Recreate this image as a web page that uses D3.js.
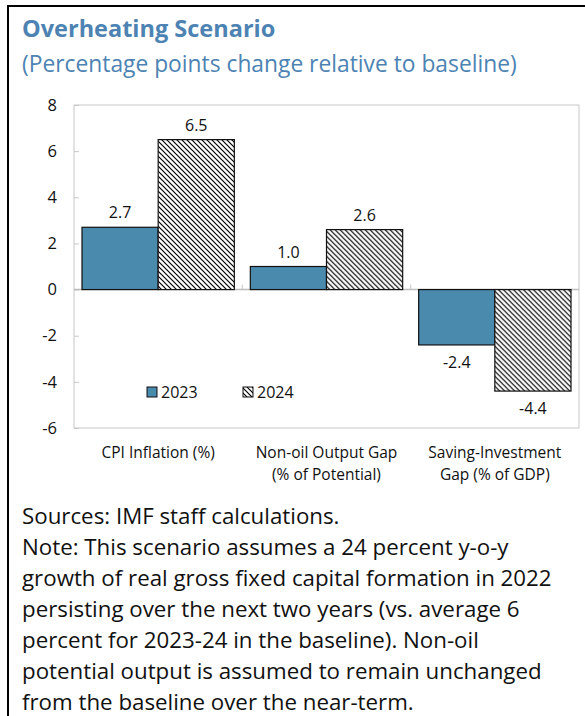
<!DOCTYPE html>
<html>
<head>
<meta charset="utf-8">
<script src="https://cdn.jsdelivr.net/npm/d3@7"></script>
<style>
  html, body { margin: 0; padding: 0; background: #fff; }
  svg { display: block; }
</style>
</head>
<body>
<svg id="chart" width="585" height="716"></svg>
<script>
// Categories, series and tick values
const categories = [
  ["CPI Inflation (%)"],
  ["Non-oil Output Gap", "(% of Potential)"],
  ["Saving-Investment", "Gap (% of GDP)"]
];
const seriesNames = ["2023", "2024"];
const values2023 = [2.7, 1.0, -2.4];
const values2024 = [6.5, 2.6, -4.4];
const yTicks = [8, 6, 4, 2, 0, -2, -4, -6];

const title = "Overheating Scenario";
const subtitle = "(Percentage points change relative to baseline)";
const notes = [
  "Sources: IMF staff calculations.",
  "Note: This scenario assumes a 24 percent y-o-y",
  "growth of real gross fixed capital formation in 2022",
  "persisting over the next two years (vs. average 6",
  "percent for 2023-24 in the baseline). Non-oil",
  "potential output is assumed to remain unchanged",
  "from the baseline over the near-term."
];

const FONT = "'Open Sans', 'Noto Sans', sans-serif";
const BLUE = "#4a8aad";
const TITLE_COLOR = "#4d83b3";

// plain hyphen for negatives, as in the printed figure
const fmtTick = d => String(d);
const fmtVal = d => d3.format(".1f")(d).replace("\u2212", "-");

const svg = d3.select("#chart");

// Pattern defs: faint dots on the blue fill, diagonal hatching for 2024
const defs = svg.append("defs");
const dots = defs.append("pattern")
  .attr("id", "dots").attr("patternUnits", "userSpaceOnUse")
  .attr("width", 8).attr("height", 8);
dots.append("rect").attr("width", 8).attr("height", 8).attr("fill", BLUE);
dots.append("rect").attr("x", 3).attr("y", 3).attr("width", 1).attr("height", 1).attr("fill", "#5b7fb8");

const hatch = defs.append("pattern")
  .attr("id", "hatch").attr("patternUnits", "userSpaceOnUse")
  .attr("width", 5).attr("height", 5);
hatch.append("rect").attr("width", 5).attr("height", 5).attr("fill", "#fff");
hatch.append("path")
  .attr("d", "M-1,-1 L6,6 M-1,4 L1,6 M4,-1 L6,1")
  .attr("stroke", "#000").attr("stroke-width", 1.2);

// Frame: top rule and left rule
svg.append("line").attr("x1", 7).attr("x2", 585).attr("y1", 6).attr("y2", 6)
  .attr("stroke", "#000").attr("stroke-width", 2);
svg.append("line").attr("x1", 8).attr("x2", 8).attr("y1", 5).attr("y2", 716)
  .attr("stroke", "#000").attr("stroke-width", 2);

// Title block
svg.append("text").attr("x", 22).attr("y", 37)
  .attr("font-family", FONT).attr("font-size", 23.5).attr("font-weight", 700)
  .attr("fill", TITLE_COLOR).text(title);
svg.append("text").attr("x", 22).attr("y", 72)
  .attr("font-family", FONT).attr("font-size", 22.8)
  .attr("fill", TITLE_COLOR).text(subtitle);

// Plot area
const plot = { left: 74, right: 579, top: 105, bottom: 428 };

const x0 = d3.scaleBand()
  .domain(d3.range(categories.length))
  .range([plot.left, plot.right])
  .paddingInner(0.095).paddingOuter(0.0475);
const x1 = d3.scaleBand()
  .domain(seriesNames)
  .range([0, x0.bandwidth()]);
const y = d3.scaleLinear().domain([-6, 8]).range([plot.bottom, plot.top]);

// Plot border
svg.append("rect")
  .attr("x", plot.left).attr("y", plot.top)
  .attr("width", plot.right - plot.left).attr("height", plot.bottom - plot.top)
  .attr("fill", "none").attr("stroke", "#c8c8c8").attr("stroke-width", 1);

// Y axis
const yAxis = svg.append("g")
  .attr("transform", `translate(${plot.left},0)`)
  .call(d3.axisLeft(y).tickValues(yTicks).tickSize(-5).tickPadding(17).tickFormat(fmtTick));
yAxis.select(".domain").remove();
yAxis.selectAll(".tick line").attr("stroke", "#c8c8c8");
yAxis.selectAll(".tick text")
  .attr("font-family", FONT).attr("font-size", 16.5).attr("fill", "#111")
  .attr("text-anchor", "end");

// Zero line
svg.append("line")
  .attr("x1", plot.left).attr("x2", plot.right)
  .attr("y1", y(0)).attr("y2", y(0))
  .attr("stroke", "#bdbdbd").attr("stroke-width", 1.5);

// Category separator ticks on the zero line
const sepX = d3.range(1, categories.length).map(i => plot.left + i * (plot.right - plot.left) / categories.length);
svg.selectAll(".sep").data(sepX).join("line")
  .attr("x1", d => d).attr("x2", d => d)
  .attr("y1", y(0) - 5).attr("y2", y(0))
  .attr("stroke", "#c8c8c8");

// Bars
const rows = categories.map((c, i) => ({
  i,
  bars: [
    { s: "2023", v: values2023[i] },
    { s: "2024", v: values2024[i] }
  ]
}));

const groups = svg.selectAll(".grp").data(rows).join("g")
  .attr("transform", d => `translate(${x0(d.i)},0)`);

groups.selectAll("rect").data(d => d.bars).join("rect")
  .attr("x", d => x1(d.s))
  .attr("width", x1.bandwidth())
  .attr("y", d => y(Math.max(0, d.v)))
  .attr("height", d => Math.abs(y(d.v) - y(0)))
  .attr("fill", d => d.s === "2023" ? "url(#dots)" : "url(#hatch)")
  .attr("stroke", "#111").attr("stroke-width", 1.2);

groups.selectAll("text.val").data(d => d.bars).join("text")
  .attr("class", "val")
  .attr("x", d => x1(d.s) + x1.bandwidth() / 2)
  .attr("y", d => d.v >= 0 ? y(d.v) - 9 : y(d.v) + 23)
  .attr("text-anchor", "middle")
  .attr("font-family", FONT).attr("font-size", 16).attr("fill", "#111")
  .text(d => fmtVal(d.v));

// Category labels
const catText = svg.selectAll(".cat").data(categories).join("text")
  .attr("font-family", FONT).attr("font-size", 15.5).attr("fill", "#111")
  .attr("text-anchor", "middle");
catText.each(function(lines, i) {
  const cx = x0(i) + x0.bandwidth() / 2;
  d3.select(this).selectAll("tspan").data(lines).join("tspan")
    .attr("x", cx)
    .attr("y", (d, k) => 458 + k * 22)
    .text(d => d);
});

// Legend
const legend = svg.append("g");
const legendItems = [
  { s: "2023", x: 147, fill: "url(#dots)" },
  { s: "2024", x: 243, fill: "url(#hatch)" }
];
legendItems.forEach(it => {
  legend.append("rect")
    .attr("x", it.x).attr("y", 387).attr("width", 10).attr("height", 10)
    .attr("fill", it.fill).attr("stroke", "#111").attr("stroke-width", 1);
  legend.append("text")
    .attr("x", it.x + 14).attr("y", 398)
    .attr("font-family", FONT).attr("font-size", 16).attr("fill", "#111")
    .text(it.s);
});

// Source and notes
svg.selectAll(".note").data(notes).join("text")
  .attr("x", 22)
  .attr("y", (d, i) => 524 + i * 31)
  .attr("font-family", FONT).attr("font-size", 22.3).attr("fill", "#111")
  .text(d => d);
</script>
</body>
</html>
